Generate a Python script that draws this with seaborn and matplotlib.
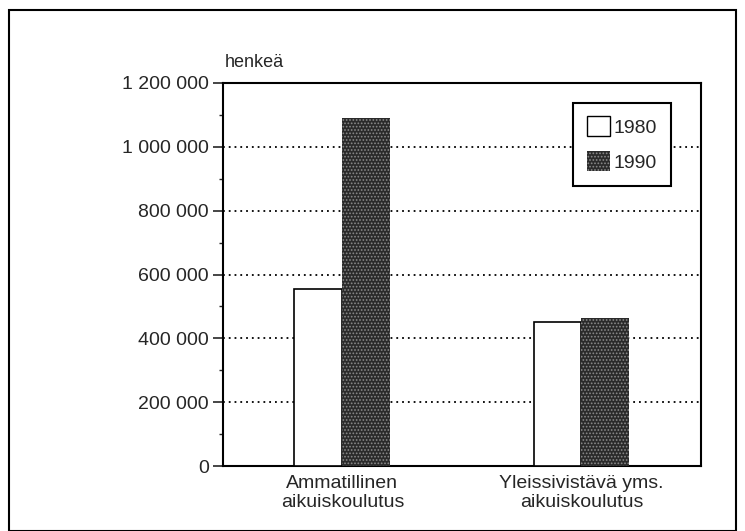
import matplotlib
matplotlib.use('Agg')
import matplotlib.pyplot as plt
import matplotlib.patches as mpatches
from matplotlib.ticker import MultipleLocator, FuncFormatter
import seaborn as sns
import pandas as pd

# Data
categories = ['Ammatillinen\naikuiskoulutus', 'Yleissivistävä yms.\naikuiskoulutus']
years = ['1980', '1990']
values_1980 = [555000, 450000]
values_1990 = [1090000, 465000]

df = pd.DataFrame({
    'kategoria': categories * 2,
    'vuosi': [years[0]] * 2 + [years[1]] * 2,
    'henkea': values_1980 + values_1990,
})

sns.set_style('ticks')
plt.rcParams['font.family'] = ['Liberation Sans', 'DejaVu Sans']
plt.rcParams['hatch.linewidth'] = 0.8

fig = plt.figure(figsize=(7.45, 5.31), dpi=100)
ax = fig.add_axes([0.299, 0.122, 0.642, 0.722])

sns.barplot(data=df, x='kategoria', y='henkea', hue='vuosi',
            palette=['white', '#2a2a2a'], width=0.4, gap=0,
            edgecolor='black', linewidth=1.2, saturation=1, ax=ax, zorder=3)

# textured dark bars
for bar in ax.containers[1]:
    bar.set_hatch('.....')
    bar.set_edgecolor('#8a8a8a')
    bar.set_linewidth(0)

ax.set_xlim(-0.5, 1.5)
ax.set_ylim(0, 1200000)
ax.yaxis.set_major_locator(MultipleLocator(200000))
ax.yaxis.set_minor_locator(MultipleLocator(100000))
ax.yaxis.set_major_formatter(FuncFormatter(lambda v, p: f'{int(v):,}'.replace(',', ' ')))
ax.tick_params(axis='y', which='major', length=7, width=1.2, labelsize=14, pad=3)
ax.tick_params(axis='y', which='minor', length=3, width=1.0)
ax.tick_params(axis='x', length=0, labelsize=14, pad=6)
for lab in ax.get_xticklabels():
    lab.set_linespacing(1.2)
ax.set_xlabel('')
ax.set_ylabel('')

for y in range(200000, 1200000, 200000):
    ax.axhline(y, color='black', linestyle=(0, (1, 2.2)), linewidth=1.3, zorder=1)

for s in ax.spines.values():
    s.set_linewidth(1.5)
    s.set_color('black')

ax.text(0.005, 1.052, 'henkeä', transform=ax.transAxes, fontsize=13, ha='left', va='center')

handles = [mpatches.Patch(facecolor='white', edgecolor='black', linewidth=1),
           mpatches.Patch(facecolor='#2a2a2a', edgecolor='#8a8a8a', hatch='.....', linewidth=0)]
leg = ax.legend(handles, years, loc='upper right', bbox_to_anchor=(0.937, 0.948),
                borderaxespad=0, fontsize=14, frameon=True, fancybox=False, framealpha=1,
                handlelength=1.2, handleheight=1.2, handletextpad=0.2,
                borderpad=0.7, labelspacing=0.75)
leg.get_frame().set_edgecolor('black')
leg.get_frame().set_linewidth(1.5)

# outer frame around the whole figure
fig.patches.append(mpatches.Rectangle((0.012, 0.0), 0.976, 0.981, transform=fig.transFigure,
                                      fill=False, edgecolor='black', linewidth=1.5))

fig.savefig('out.png', dpi=100)
